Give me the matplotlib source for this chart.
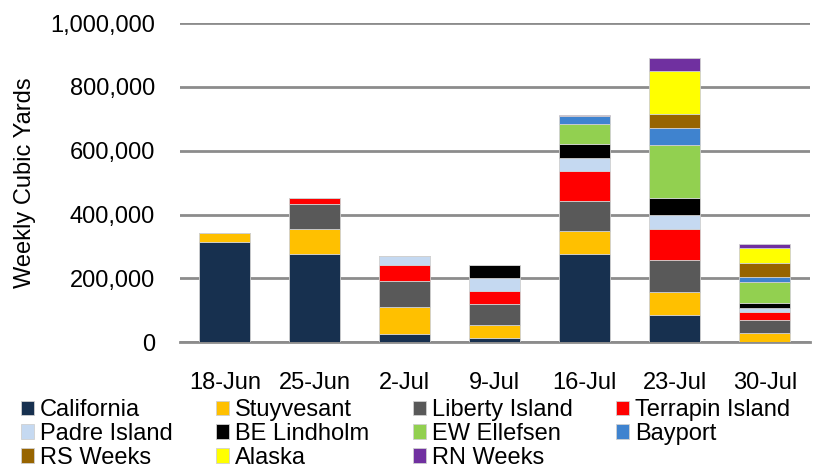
import numpy as np
import matplotlib
matplotlib.use("Agg")
import matplotlib.pyplot as plt
from matplotlib.ticker import FuncFormatter

weeks = ["18-Jun", "25-Jun", "2-Jul", "9-Jul", "16-Jul", "23-Jul", "30-Jul"]

california = [314000, 277000, 25000, 14000, 277000, 86000, 0]
stuyvesant = [27000, 79000, 86000, 39000, 73000, 73000, 29000]
liberty = [0, 76000, 80000, 68000, 92000, 100000, 40000]
terrapin = [0, 20000, 52000, 40000, 96000, 95000, 27000]
padre = [0, 0, 27000, 39000, 38000, 46000, 13000]
be_lindholm = [0, 0, 0, 42000, 44000, 53000, 14000]
ew_ellefsen = [0, 0, 0, 0, 65000, 164000, 67000]
bayport = [0, 0, 0, 0, 24000, 54000, 13000]
rs_weeks = [0, 0, 0, 0, 0, 43000, 45000]
alaska = [0, 0, 0, 0, 0, 136000, 47000]
rn_weeks = [0, 0, 0, 0, 3000, 39000, 14000]

series = [
    ("California", california, "#17304F"),
    ("Stuyvesant", stuyvesant, "#FFC000"),
    ("Liberty Island", liberty, "#595959"),
    ("Terrapin Island", terrapin, "#FF0000"),
    ("Padre Island", padre, "#C5D9F1"),
    ("BE Lindholm", be_lindholm, "#000000"),
    ("EW Ellefsen", ew_ellefsen, "#92D050"),
    ("Bayport", bayport, "#3F83CF"),
    ("RS Weeks", rs_weeks, "#976400"),
    ("Alaska", alaska, "#FFFF00"),
    ("RN Weeks", rn_weeks, "#7030A0"),
]

plt.rcParams["font.family"] = ["Liberation Sans", "DejaVu Sans"]
fs = 17

fig = plt.figure(figsize=(8.15, 4.7), dpi=100)
ax = fig.add_axes([0.2206, 0.2717, 0.773, 0.6793])

x = np.arange(len(weeks))
bottom = np.zeros(len(weeks))
for name, vals, color in series:
    vals = np.array(vals, dtype=float)
    ax.bar(x, vals, 0.57, bottom=bottom, color=color, label=name,
           edgecolor="#D0D0D0", linewidth=0.6, zorder=3)
    bottom += vals

ax.set_xlim(-0.5, len(weeks) - 0.5)
ax.set_ylim(0, 1000000)
ax.set_yticks(np.arange(0, 1000001, 200000))
ax.yaxis.set_major_formatter(FuncFormatter(lambda v, p: f"{int(v):,}"))
ax.set_xticks(x)
ax.set_xticklabels(weeks)
ax.grid(axis="y", color="#8C8C8C", linewidth=2, zorder=0)
for s in ["top", "right", "left"]:
    ax.spines[s].set_visible(False)
ax.spines["bottom"].set_color("#8C8C8C")
ax.spines["bottom"].set_linewidth(2)
ax.tick_params(axis="both", length=0, labelsize=fs)
ax.tick_params(axis="y", pad=18)
ax.tick_params(axis="x", pad=21.5)
ax.set_ylabel("Weekly Cubic Yards", fontsize=fs)
ax.yaxis.set_label_coords(-0.2275, 0.5)

# row-major legend order
handles, labels = ax.get_legend_handles_labels()
order = [0, 4, 8, 1, 5, 9, 2, 6, 10, 3, 7]
fig.legend([handles[i] for i in order], [labels[i] for i in order],
           loc="upper left", bbox_to_anchor=(21 / 815, 1 - 399 / 470), ncol=4,
           frameon=False, fontsize=fs, handlelength=0.55, handleheight=0.55,
           handletextpad=0.25, columnspacing=1.85, labelspacing=0.08,
           borderaxespad=0, borderpad=0)

fig.savefig("out.png", dpi=100)
